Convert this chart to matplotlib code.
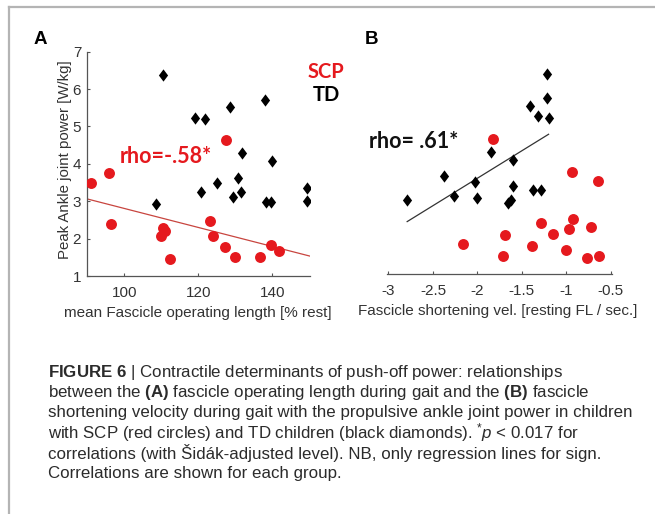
import numpy as np
import matplotlib.pyplot as plt
from matplotlib.lines import Line2D

plt.rcParams['font.family'] = ['Liberation Sans', 'DejaVu Sans']
plt.rcParams['mathtext.fontset'] = 'custom'
plt.rcParams['mathtext.rm'] = 'Liberation Sans'
plt.rcParams['mathtext.it'] = 'Liberation Sans:italic'
plt.rcParams['mathtext.bf'] = 'Liberation Sans:bold'

# panel A - fascicle operating length vs peak ankle power
scp_len = [90.9, 95.8, 96.5, 109.8, 110.3, 111.1, 112.4, 123.2, 124.0, 127.4, 127.1, 129.8, 136.6, 139.6, 141.9]
scp_pow_a = [3.50, 3.76, 2.38, 2.07, 2.28, 2.21, 1.45, 2.48, 2.06, 4.63, 1.77, 1.50, 1.50, 1.82, 1.67]
td_len = [110.5, 108.6, 119.0, 121.9, 120.8, 125.0, 128.6, 129.5, 130.6, 131.4, 131.8, 138.0, 138.2, 140.0, 139.7, 149.5, 149.5]
td_pow_a = [6.39, 2.92, 5.24, 5.19, 3.25, 3.48, 5.51, 3.12, 3.61, 3.26, 4.28, 5.71, 2.99, 4.08, 2.99, 3.36, 3.02]

# panel B - fascicle shortening velocity vs peak ankle power
scp_vel = [-1.82, -0.94, -0.64, -1.29, -0.93, -0.97, -0.72, -1.15, -1.69, -2.16, -1.39, -1.00, -1.71, -0.77, -0.63]
scp_pow_b = [4.61, 3.74, 3.48, 2.36, 2.46, 2.20, 2.27, 2.08, 2.05, 1.81, 1.75, 1.64, 1.49, 1.43, 1.48]
td_vel = [-2.79, -2.38, -2.26, -2.03, -2.01, -1.85, -1.60, -1.60, -1.66, -1.62, -1.38, -1.29, -1.41, -1.32, -1.22, -1.22, -1.20]
td_pow_b = [2.97, 3.61, 3.09, 3.45, 3.02, 4.26, 4.05, 3.35, 2.90, 2.99, 3.25, 3.25, 5.49, 5.22, 6.36, 5.70, 5.16]

xticks_a = [100, 120, 140]
yticks_a = [1, 2, 3, 4, 5, 6, 7]
xticks_b = [-3, -2.5, -2, -1.5, -1, -0.5]
xticklabels_b = ['-3', '-2.5', '-2', '-1.5', '-1', '-0.5']

RED = '#e5191e'
diamond = [(0, 1), (0.75, 0), (0, -1), (-0.75, 0), (0, 1)]

fig = plt.figure(figsize=(6.55, 5.14), dpi=100)

# frame around the figure (only left and top edges visible)
fig.add_artist(Line2D([9/655, 9/655], [0, 1 - 7/514], color='#b4b4b4', lw=1.6, transform=fig.transFigure))
fig.add_artist(Line2D([9/655, 1], [1 - 7/514, 1 - 7/514], color='#b4b4b4', lw=1.6, transform=fig.transFigure))

axA = fig.add_axes([0.1324, 0.4630, 0.3409, 0.4364])
axB = fig.add_axes([0.5904, 0.4669, 0.3435, 0.4366])

for ax in (axA, axB):
    for s in ('top', 'right'):
        ax.spines[s].set_visible(False)
    for s in ('left', 'bottom'):
        ax.spines[s].set_color('#555555')
        ax.spines[s].set_linewidth(0.9)
    ax.tick_params(direction='in', length=2.5, width=0.8, color='#555555',
                   labelsize=11, labelcolor='#333333')
    ax.set_ylim(1, 7)

# panel A
axA.scatter(scp_len, scp_pow_a, s=62, color=RED, marker='o', linewidths=0, zorder=3)
axA.scatter(td_len, td_pow_a, s=78, color='black', marker=diamond, linewidths=0, zorder=3)
axA.set_xlim(89.8, 150.2)
k, b = np.polyfit(scp_len, scp_pow_a, 1)
xx = np.array(axA.get_xlim())
axA.plot(xx, k * xx + b, color='#c8453f', lw=0.9, zorder=2)
axA.set_xticks(xticks_a)
axA.set_yticks(yticks_a)
axA.tick_params(axis='x', pad=7)
axA.tick_params(axis='y', pad=4)
axA.set_xlabel('mean Fascicle operating length [% rest]', fontsize=11, color='#333333')
axA.set_ylabel('Peak Ankle joint power [W/kg]', fontsize=10.8, color='#333333')
axA.xaxis.set_label_coords(0.498, -0.134)
axA.yaxis.set_label_coords(-0.068, 0.52)

# panel B
axB.scatter(scp_vel, scp_pow_b, s=62, color=RED, marker='o', linewidths=0, zorder=3)
axB.scatter(td_vel, td_pow_b, s=78, color='black', marker=diamond, linewidths=0, zorder=3)
axB.set_xlim(-3.02, -0.49)
k, b = np.polyfit(td_vel, td_pow_b, 1)
xx = np.array([min(td_vel), max(td_vel)])
axB.plot(xx, k * xx + b, color='#333333', lw=0.9, zorder=2)
axB.spines['left'].set_visible(False)
axB.set_yticks([])
axB.set_xticks(xticks_b)
axB.set_xticklabels(xticklabels_b)
axB.tick_params(axis='x', pad=7)
axB.set_xlabel('Fascicle shortening vel. [resting FL / sec.]', fontsize=11, color='#333333')
axB.xaxis.set_label_coords(0.495, -0.134)

# annotations
fig.text(40/655, 1 - 40/514, 'A', fontsize=13.5, fontweight='bold', ha='center', va='center')
fig.text(371/655, 1 - 40/514, 'B', fontsize=13.5, fontweight='bold', ha='center', va='center')
fig.text(326/655, 1 - 72/514, 'SCP', fontsize=14.5, fontweight='bold', color=RED, ha='center', va='center', family='Lato')
fig.text(326/655, 1 - 95/514, 'TD', fontsize=14.5, fontweight='bold', color='black', ha='center', va='center', family='Lato')
fig.text(166/655, 1 - 156.5/514, 'rho=-.58*', fontsize=15.5, fontweight='bold', color=RED, ha='center', va='center', family='Lato')
fig.text(414/655, 1 - 142/514, 'rho= .61*', fontsize=15.5, fontweight='bold', color='#111111', ha='center', va='center', family='Lato')

# caption
caption = [
    r'$\mathbf{FIGURE\ 6}$ | Contractile determinants of push-off power: relationships',
    r'between the $\mathbf{(A)}$ fascicle operating length during gait and the $\mathbf{(B)}$ fascicle',
    'shortening velocity during gait with the propulsive ankle joint power in children',
    r'with SCP (red circles) and TD children (black diamonds). $^{*}\mathit{p}$ < 0.017 for',
    'correlations (with Šidák-adjusted level). NB, only regression lines for sign.',
    'Correlations are shown for each group.',
]
for i, line in enumerate(caption):
    fig.text(48/655, 1 - (372 + i * 20.3)/514, line, fontsize=12.2, color='#2b2b2b', ha='left', va='center')

fig.savefig('out.png', dpi=100)
